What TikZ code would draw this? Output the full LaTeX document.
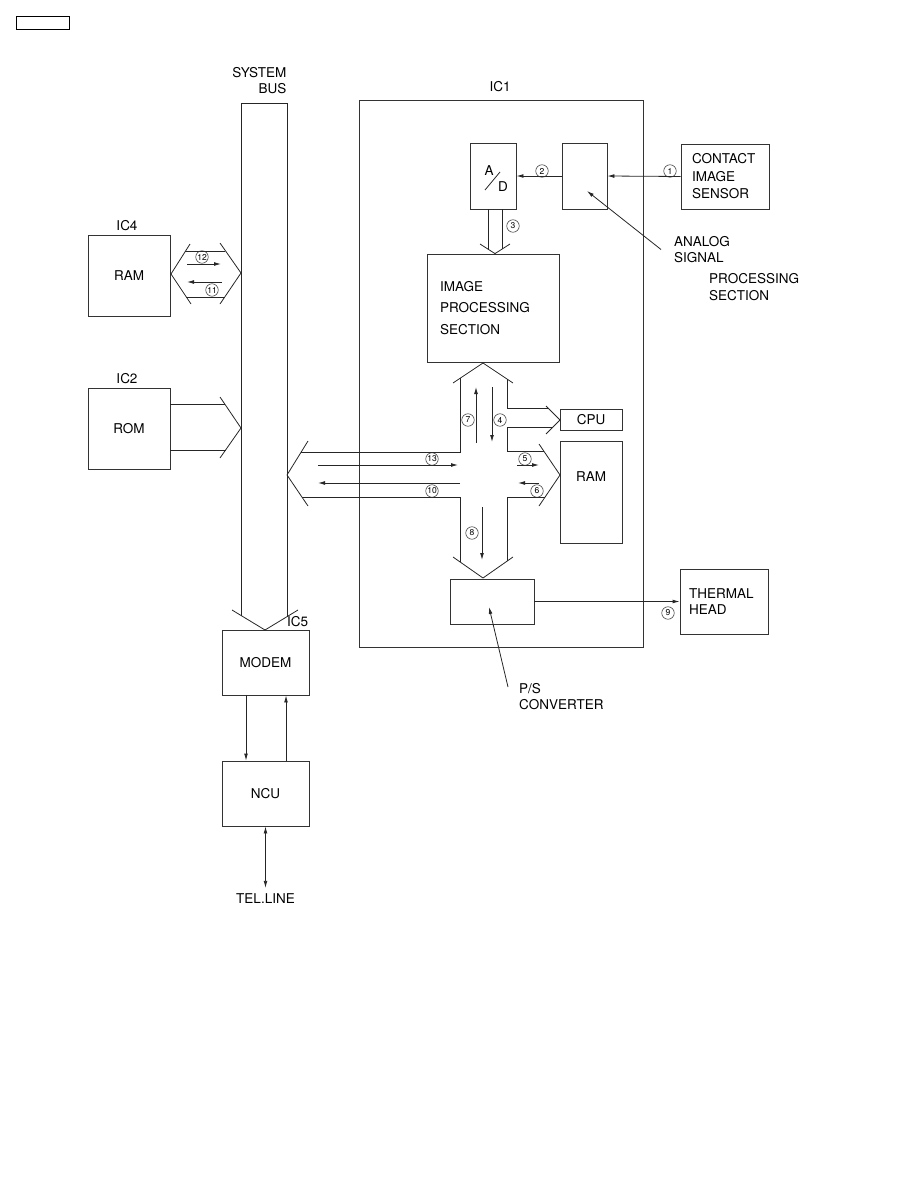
\documentclass[tikz,border=0pt]{standalone}
\usepackage{fontspec}
\setmainfont{TeX Gyre Heros}
\usetikzlibrary{positioning,arrows.meta,calc}
\tikzset{
  blk/.style  = {draw=black!80, line width=0.8pt, inner sep=0pt, font=\fontsize{13.5}{16}\selectfont},
  txt/.style  = {inner sep=0pt, align=left, font=\fontsize{13.5}{16.5}\selectfont},
  num/.style  = {circle, draw=black!80, line width=0.55pt, inner sep=0pt, minimum size=12.5pt, font=\fontsize{8.5}{9}\selectfont},
  bus/.style  = {draw=black!85, line width=0.8pt},
  sig/.style  = {-{Latex[length=7pt,width=3.8pt]}, draw=black!85, line width=0.8pt},
}
\begin{document}
\begin{tikzpicture}[x=1pt,y=-1pt]
  \useasboundingbox (0,0) rectangle (918,1188);
  \node[draw, line width=1pt, minimum width=53, minimum height=13, inner sep=0pt] (pg) at (42.5,23.5) {};

  % blocks
  \node[blk, minimum width=82, minimum height=81] (ram4) at (129,275.5) {RAM};
  \node[blk, minimum width=82, minimum height=81] (rom)  at (129,428.5) {ROM};
  \node[blk, minimum width=284, minimum height=547] (ic1) at (501,373.5) {};
  \node[blk, minimum width=46, minimum height=66] (ad)   at (493,176) {};
  \node[blk, minimum width=45, minimum height=66] (asp)  at (584.5,176) {};
  \node[blk, minimum width=88, minimum height=65, text width=66, inner xsep=11pt,
        font=\fontsize{13.5}{17.5}\selectfont, align=left] (cis) at (725,176.5) {CONTACT\\IMAGE\\SENSOR};
  \node[blk, minimum width=132, minimum height=108, text width=106, inner xsep=13pt,
        font=\fontsize{13.5}{21.5}\selectfont, align=left] (ips) at (493,308) {IMAGE\\PROCESSING\\SECTION};
  \node[blk, minimum width=62, minimum height=21] (cpu)  at (591,419.5) {CPU};
  \node[blk, minimum width=62, minimum height=102] (ram1) at (591,492) {};
  \node[blk, minimum width=84, minimum height=45] (ps)   at (492,601.5) {};
  \node[blk, minimum width=88, minimum height=65, text width=70, inner xsep=9pt,
        font=\fontsize{13.5}{16}\selectfont, align=left] (th) at (724,601.5) {THERMAL\\HEAD};
  \node[blk, minimum width=87, minimum height=65] (modem) at (265.5,662.5) {MODEM};
  \node[blk, minimum width=87, minimum height=65] (ncu)   at (265.5,793.5) {NCU};

  % labels
  \node[txt, align=right, anchor=east] (sbus) at (286.5,80.5) {SYSTEM\\BUS};
  \node[txt] (ic1l) at (500,87) {IC1};
  \node[txt] (ic4l) at (127,226) {IC4};
  \node[txt] (ic2l) at (127,379) {IC2};
  \node[txt] (ic5l) at (297.5,622) {IC5};
  \node[txt] (rlab) at ($(ram1.north)+(0,36)$) {RAM};
  \node[txt] (aa) at (489,171) {A};
  \node[txt] (dd) at (503,187) {D};
  \draw[bus] (485,190) -- (500,172);
  \node[txt, anchor=west] (asl) at (674,249.5) {ANALOG\\SIGNAL};
  \node[txt, anchor=west] (psec) at (709,287) {PROCESSING\\SECTION};
  \node[txt, anchor=west] (pstxt) at (519,696.5) {P/S\\CONVERTER};
  \node[txt] (tel) at (265.5,899) {TEL.LINE};

  % system bus
  \draw[bus] (241,615.5) -- (241,103) -- (287,103) -- (287,616.7);
  \draw[bus] (232,610) -- (265,630) -- (298,610);
  % IC4 <-> bus
  \draw[bus] (190,244) -- (171,274) -- (191,304);
  \draw[bus] (220,243) -- (241,273) -- (220,304);
  \draw[bus] (185.4,251) -- (225,251) (186.3,297) -- (224.7,297);
  % ROM -> bus
  \draw[bus] (rom.east |- 0,404) -- (224.7,404) (rom.east |- 0,450) -- (225.6,450);
  \draw[bus] (220,397) -- (241,428) -- (220,458);
  % A/D -> image processing
  \draw[bus] ([xshift=-5]ad.south) -- (488,249.3) ([xshift=9]ad.south) -- (502,249.3);
  \draw[bus] (480,244) -- (ips.north -| 495,0) -- (510,244);
  % cross bus
  \draw[bus] (453,383) -- (483,363) -- (513,383);
  \draw[bus] (460,378.3) -- (460,452) -- (301.2,452);
  \draw[bus] (308,441) -- (287,475) -- (308,506);
  \draw[bus] (301.9,497) -- (460,497) -- (460,561.9);
  \draw[bus] (453,557) -- (483,578) -- (513,557);
  \draw[bus] (507,561.2) -- (507,497) -- (545,497);
  \draw[bus] (539,444) -- (560,475) -- (539,506);
  \draw[bus] (543.7,451) -- (507,451) -- (507,427) -- (553,427);
  \draw[bus] (546,406) -- (560,420) -- (546,434);
  \draw[bus] (548,408) -- (507,408) -- (507,379);

  % signal arrows
  \draw[sig] (cis.west) -- (asp.east);
  \draw[sig] (asp.west) -- (ad.east);
  \draw[sig] (ps.east) -- (th.west);
  \draw[sig] ([xshift=-19.5]modem.south) -- ([xshift=-19.5]ncu.north);
  \draw[sig] ([xshift=20.5]ncu.north) -- ([xshift=20.5]modem.south);
  \draw[sig, {Latex[length=7pt,width=3.8pt]}-{Latex[length=7pt,width=3.8pt]}, shorten >=6pt] (ncu.south) -- (tel.north);
  \draw[sig] ([xshift=-13]asl.west) -- ($(asp.center)+(2.5,15)$);
  \draw[sig] ($(pstxt.west)+(-11,-9.5)$) -- ($(ps.center)+(-3,5.5)$);
  \foreach \k/\ax/\ay/\bx/\by in {12/187/264/221/264, 11/222/282/187/282, 13/318/465/458/465,
      10/460/483/318/483, 5/517/465/539/465, 6/539/483/518/483, 7/476/443/476/387,
      4/492/387/492/442, 8/482/507/482/560}{
    \coordinate (s\k) at (\ax,\ay);
    \coordinate (e\k) at (\bx,\by);
    \draw[sig] (s\k) -- (e\k);
  }

  % step numbers
  \foreach \k/\px/\py in {1/670/171, 2/542/171, 3/513/226, 4/500/420, 5/525/459, 6/537/491,
      7/468/420, 8/472/533, 9/668/613, 10/432/491, 11/212/290, 12/202/257, 13/432/459}
    \node[num] (n\k) at (\px,\py) {\k};
\end{tikzpicture}
\end{document}
